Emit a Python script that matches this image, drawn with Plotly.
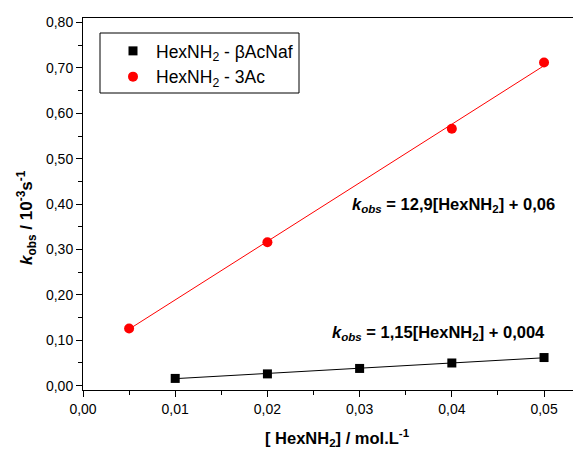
import plotly.graph_objects as go
import numpy as np

# data
x_black = [0.01, 0.02, 0.03, 0.04, 0.05]
y_black = [0.016, 0.026, 0.038, 0.050, 0.062]
x_red = [0.005, 0.02, 0.04, 0.05]
y_red = [0.126, 0.316, 0.566, 0.712]
fit_black = [1.15, 0.004]   # slope, intercept
fit_red = [12.9, 0.06]
name_black = "HexNH<sub>2</sub> - βAcNaf"
name_red = "HexNH<sub>2</sub> - 3Ac"
x_ticks = [0.00, 0.01, 0.02, 0.03, 0.04, 0.05]
x_ticklabels = ["0,00", "0,01", "0,02", "0,03", "0,04", "0,05"]
y_ticks = [0.0, 0.1, 0.2, 0.3, 0.4, 0.5, 0.6, 0.7, 0.8]
y_ticklabels = ["0,00", "0,10", "0,20", "0,30", "0,40", "0,50", "0,60", "0,70", "0,80"]

FONT = "Liberation Sans, Arial, sans-serif"

# page body has an 8px default margin: figure is shrunk so the plot lands at the same screen spot
OFF = 8
W, H = 581 - OFF, 451 - OFF
L, T, B, R = 83 - OFF, 18 - OFF, 61, 1
PW, PH = W - L - R, H - T - B   # 497 x 372

def px(sx):  # screen x -> paper
    return (sx - 83) / PW

def py(sy):  # screen y -> paper
    return (390 - sy) / PH

fig = go.Figure()
xb = np.array([min(x_black), max(x_black)])
fig.add_trace(go.Scatter(x=xb, y=fit_black[0]*xb + fit_black[1], mode="lines",
                         line=dict(color="black", width=1), showlegend=False, hoverinfo="skip"))
xr = np.array([min(x_red), max(x_red)])
fig.add_trace(go.Scatter(x=xr, y=fit_red[0]*xr + fit_red[1], mode="lines",
                         line=dict(color="red", width=1), showlegend=False, hoverinfo="skip"))
fig.add_trace(go.Scatter(x=x_black, y=y_black, mode="markers", name=name_black,
                         marker=dict(symbol="square", size=9, color="black")))
fig.add_trace(go.Scatter(x=x_red, y=y_red, mode="markers", name=name_red,
                         marker=dict(symbol="circle", size=10, color="red")))

# legend frame
fig.add_shape(type="rect", xref="paper", yref="paper",
              x0=px(100), x1=px(299), y0=py(93), y1=py(33),
              line=dict(color="black", width=1), fillcolor="rgba(0,0,0,0)", layer="above")

fig.update_layout(
    width=W, height=H,
    margin=dict(l=L, r=R, t=T, b=B),
    paper_bgcolor="white", plot_bgcolor="white",
    font=dict(family=FONT, size=14, color="black"),
    showlegend=True,
    legend=dict(x=px(110), y=py(33), xanchor="left", yanchor="top",
                borderwidth=0, bgcolor="rgba(0,0,0,0)",
                font=dict(family=FONT, size=17.5), itemwidth=36,
                tracegroupgap=0),
    xaxis=dict(range=[0, 0.0539], tickvals=x_ticks, ticktext=x_ticklabels,
               showline=True, linecolor="black", linewidth=1, mirror=True,
               ticks="outside", ticklen=6, tickcolor="black",
               minor=dict(dtick=0.005, tick0=0, ticks="outside", ticklen=4, tickcolor="black"),
               showgrid=False, zeroline=False, tickfont=dict(size=14)),
    yaxis=dict(range=[-0.0095, 0.81], tickvals=y_ticks, ticktext=y_ticklabels,
               showline=True, linecolor="black", linewidth=1,
               ticks="outside", ticklen=6, tickcolor="black",
               minor=dict(dtick=0.05, tick0=0, ticks="outside", ticklen=4, tickcolor="black"),
               showgrid=False, zeroline=False, tickfont=dict(size=14)),
)

fig.add_annotation(xref="paper", yref="paper", x=px(26), y=py(218),
                   text="<b><i>k</i><sub>obs</sub> / 10<sup>-3</sup>s<sup>-1</sup></b>",
                   textangle=-90, showarrow=False, xanchor="center", yanchor="middle",
                   font=dict(size=17, family=FONT))
fig.add_annotation(xref="paper", yref="paper", x=px(337), y=py(438),
                   text="<b>[ HexNH<sub>2</sub>] / mol.L<sup>-1</sup></b>",
                   showarrow=False, xanchor="center", yanchor="middle",
                   font=dict(size=16.5, family=FONT))
fig.add_annotation(x=0.0514, y=0.398,
                   text="<b><i>k</i><sub><i>obs</i></sub> = 12,9[HexNH<sub>2</sub>] + 0,06</b>",
                   showarrow=False, xanchor="right", yanchor="middle",
                   font=dict(size=16.5, family=FONT))
fig.add_annotation(x=0.0503, y=0.116,
                   text="<b><i>k</i><sub><i>obs</i></sub> = 1,15[HexNH<sub>2</sub>] + 0,004</b>",
                   showarrow=False, xanchor="right", yanchor="middle",
                   font=dict(size=16.5, family=FONT))

fig.write_html("out.html")
